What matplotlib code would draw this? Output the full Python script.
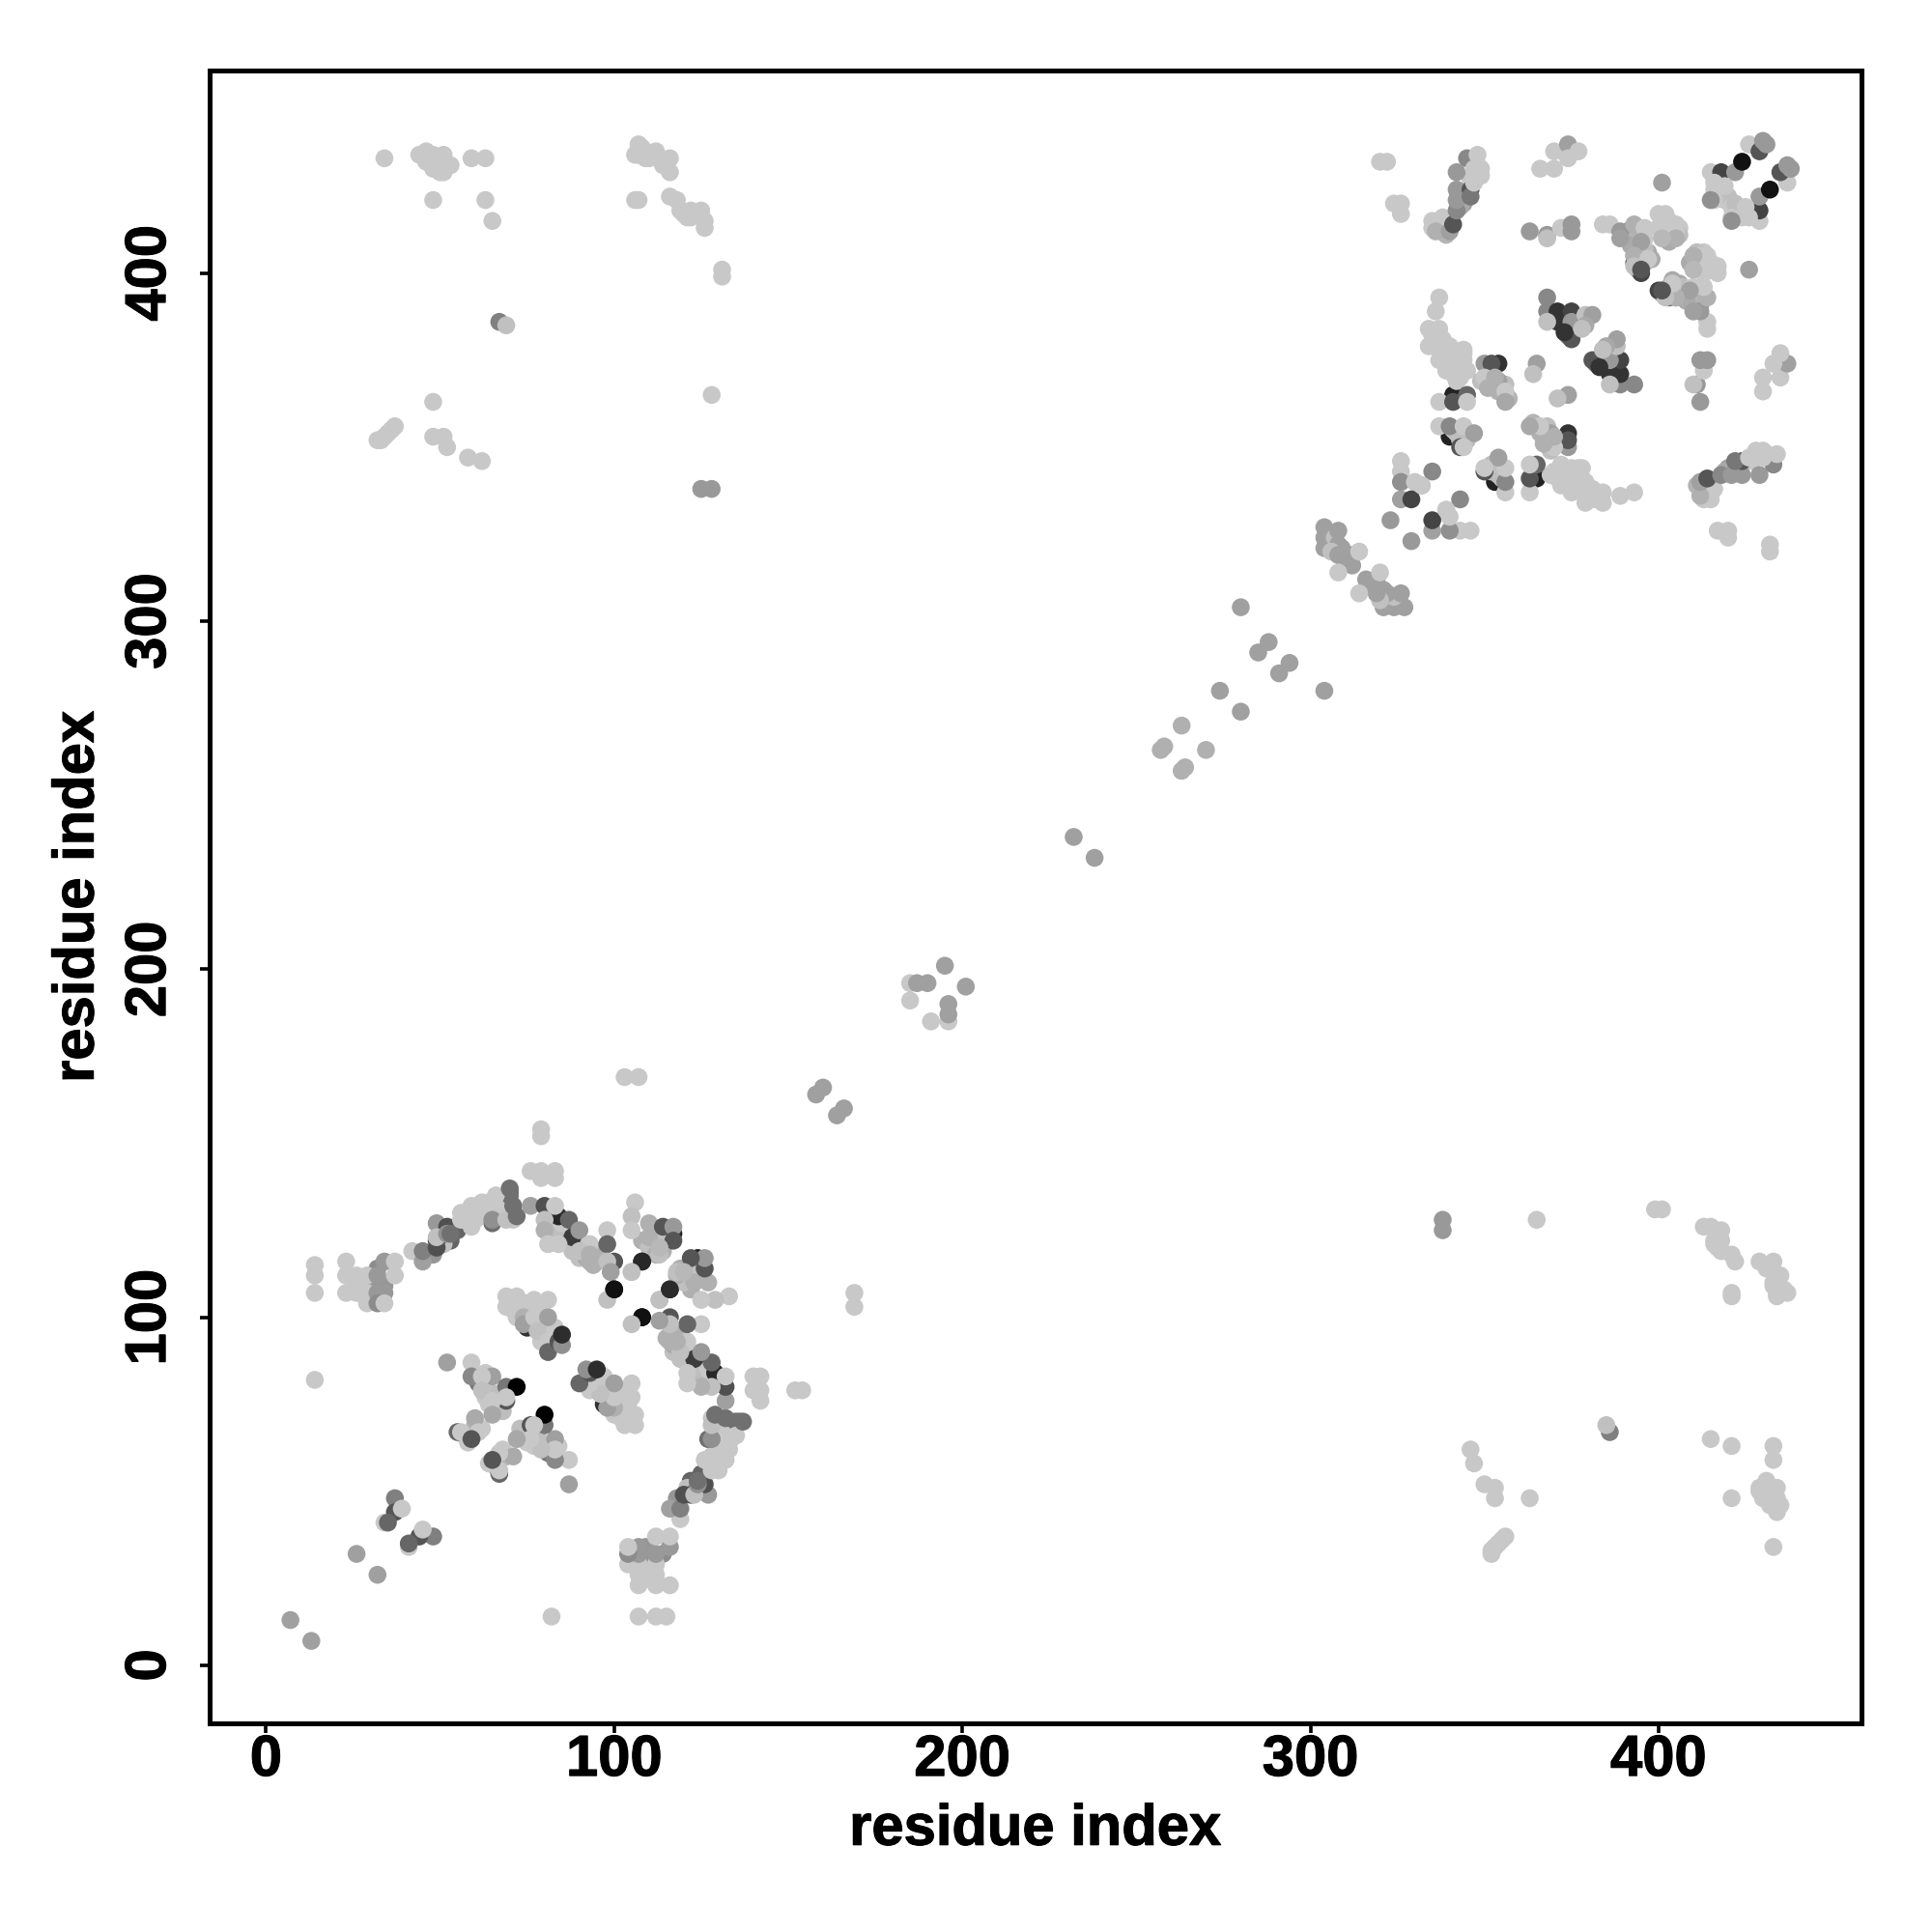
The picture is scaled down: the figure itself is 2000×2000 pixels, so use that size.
import matplotlib
matplotlib.use("Agg")
import matplotlib.pyplot as plt
import matplotlib.patheffects as pe
import numpy as np

# contacts are listed once (i < j), the map is symmetric so they get mirrored below
arc_i = [7, 26, 14, 14, 14, 14, 23, 23, 23, 26, 26, 29, 29, 29,
         32, 32, 34, 32, 34, 34, 37, 37,
         42, 45, 45, 49, 49, 49, 52, 49, 52, 53,
         56, 56, 59, 59, 62, 65, 65, 66, 69, 70, 71, 72,
         76, 80, 83, 80, 80, 81, 84, 87, 90, 93, 90, 93, 93,
         98, 98, 100, 98, 99, 105, 108, 100, 98, 116, 113, 108,
         106, 105, 105, 110, 110, 114, 117, 117, 113,
         103, 107, 79, 79, 76, 79, 83, 79, 83]
arc_j = [13, 32, 115, 112, 107, 82, 116, 112, 107, 112, 107, 112, 107, 104,
         112, 107, 107, 104, 104, 116, 116, 112,
         119, 116, 119, 120, 122, 127, 126, 123, 124, 124,
         130, 128, 126, 132, 133, 131, 128, 135, 128, 137, 132, 129,
         132, 132, 132, 128, 125, 121, 121, 128, 125, 121, 119, 118, 116,
         125, 121, 116, 116, 113, 113, 116, 108, 105, 108, 105, 100,
         133, 129, 125, 127, 123, 126, 126, 122, 120,
         169, 169, 154, 152, 142, 142, 142, 140, 140]
arc_g = [160, 160, 200, 200, 200, 200, 200, 200, 200, 200, 200, 200, 200, 200,
         153, 153, 153, 140, 200, 153, 200, 200,
         200, 160, 128, 80, 80, 153, 80, 192, 144, 112,
         200, 200, 200, 200, 200, 200, 144, 200, 192, 112, 112, 112,
         160, 80, 200, 192, 176, 200, 200, 102, 153, 200, 192, 176, 176,
         200, 102, 85, 192, 160, 192, 42, 17, 192, 40, 192, 17,
         200, 192, 200, 176, 176, 85, 153, 85, 184,
         200, 200, 200, 200, 200, 200, 200, 200, 200]

inner_i = [69, 72, 69, 77, 81, 74, 74, 77, 81, 78, 81, 81, 84, 85, 85,
           52, 59, 59, 65, 62, 69, 72, 62, 69, 69, 65, 65, 60, 55, 56, 61, 59,
           37, 37, 39, 34, 35]
inner_j = [106, 106, 103, 105, 105, 100, 98, 100, 100, 96, 93, 90, 93, 92, 95,
           87, 87, 83, 83, 83, 80, 80, 79, 76, 77, 76, 72, 71, 67, 67, 67, 65,
           48, 44, 45, 41, 41]
inner_g = [200, 200, 200, 200, 200, 176, 160, 200, 160, 192, 200, 102, 85, 144, 45,
           160, 200, 136, 160, 200, 119, 0, 192, 85, 200, 200, 168, 170, 102, 200, 200, 85,
           128, 85, 200, 200, 102]

far_i = [34, 44, 46, 48, 48, 50, 51, 53, 59, 63, 48, 63, 65,
         106, 107, 109, 111, 113, 115, 116, 116, 106, 107, 116, 118, 119, 122, 121, 125, 126, 126, 131, 131,
         67, 69, 48, 128,
         32, 34, 35, 37, 48, 51, 52, 58, 62, 125, 128]
far_j = [433, 434, 435, 434, 430, 432, 429, 431, 433, 433, 421, 421, 415,
         434, 437, 433, 434, 433, 432, 433, 429, 421, 421, 422, 421, 418, 418, 416, 418, 415, 413, 401, 399,
         386, 385, 363, 365,
         352, 353, 354, 356, 353, 353, 350, 347, 346, 338, 338]
far_g = [200, 200, 200, 200, 200, 200, 200, 200, 200, 200, 200, 200, 200,
         200, 200, 200, 200, 200, 200, 200, 200, 200, 200, 200, 200, 200, 200, 200, 200, 200, 200, 200, 200,
         128, 192, 200, 200,
         200, 200, 200, 200, 200, 200, 200, 200, 200, 153, 153]

mid_i = [160, 158, 185, 187, 190, 185, 195, 232, 257, 258, 263, 274, 280, 285, 288]
mid_j = [166, 164, 196, 196, 196, 191, 201, 238, 263, 264, 270, 280, 304, 291, 294]
mid_g = [160, 160, 200, 160, 160, 200, 160, 160, 176, 176, 176, 160, 160, 160, 160]

streak_i = [304, 304, 304, 307, 308, 308, 306, 308, 310, 312, 314, 308]
streak_j = [327, 324, 321, 324, 326, 322, 320, 319, 317, 319, 320, 314]
streak_g = [160, 160, 160, 192, 160, 160, 192, 160, 160, 160, 200, 200]

core_i = [320, 322, 326, 324, 326,
          335, 337, 336, 340, 341, 342, 342, 342, 346, 346, 347, 342, 345, 349, 348, 347,
          337, 336, 334, 337, 334, 337, 340, 344, 344, 337, 341, 344, 341, 343, 342,
          350, 354, 352, 350, 353, 351, 354, 356, 356, 365, 364,
          337, 341, 345, 345, 337, 340, 344, 347, 343, 344,
          368, 368, 371, 375, 371, 368, 375, 379, 381, 375, 373, 379, 378,
          366, 370, 370, 374, 377, 374, 363, 368, 368, 372, 375, 375,
          384, 386, 389, 389, 393, 396, 396, 395, 393, 397, 393, 395,
          401, 401, 403, 405, 405, 401,
          415, 415, 418, 422, 416, 419, 424, 426, 429, 431, 430,
          326, 326, 326, 330, 332, 326, 329, 335, 323, 332]
core_j = [432, 432, 420, 420, 417,
          415, 415, 412, 412, 414, 418, 424, 421, 424, 422, 426, 429, 433, 430, 434, 430,
          393, 389, 384, 384, 379, 378, 379, 378, 375, 375, 375, 372, 371, 370, 369,
          374, 374, 374, 370, 370, 367, 366, 366, 363, 374, 371,
          363, 363, 365, 363, 356, 356, 356, 354, 350, 350,
          393, 389, 389, 389, 386, 386, 386, 388, 388, 381, 383, 385, 384,
          430, 430, 435, 437, 435, 433, 412, 411, 410, 413, 414, 412,
          414, 414, 412, 410, 414, 413, 410, 409, 405, 404, 402, 401,
          426, 416, 415, 412, 410, 410,
          429, 421, 429, 429, 426, 425, 432, 437, 435, 437, 438,
          346, 343, 340, 340, 339, 335, 335, 343, 329, 339]
core_g = [200, 200, 200, 200, 200,
          200, 200, 176, 160, 85, 136, 153, 153, 85, 119, 200, 153, 136, 200, 200, 200,
          200, 200, 200, 200, 200, 200, 200, 200, 200, 200, 200, 200, 200, 200, 200,
          153, 51, 85, 200, 176, 176, 176, 200, 168, 160, 192,
          200, 85, 102, 200, 200, 136, 200, 160, 85, 200,
          136, 136, 51, 68, 51, 192, 153, 192, 160, 85, 51, 168, 192,
          200, 200, 200, 160, 200, 200, 153, 153, 192, 200, 153, 153,
          200, 200, 153, 160, 176, 200, 200, 160, 176, 200, 192, 85,
          160, 200, 200, 200, 176, 184,
          200, 144, 68, 153, 200, 200, 17, 200, 85, 153, 153,
          200, 200, 144, 200, 200, 160, 68, 136, 153, 200]

# dark contacts that sit partly hidden in the reference, drawn first
under_i = [83, 86, 117, 75, 341, 340]
under_j = [128, 124, 124, 97, 365, 353]
under_g = [48, 51, 34, 51, 34, 34]

# weaker contacts filling out the dense patches, drawn underneath
fill_i = [26, 29, 31, 29, 32, 33, 31, 34,
          58, 60, 61, 63, 64, 66, 67, 68, 70, 71, 65, 60, 55, 70, 70,
          50, 53, 51, 48,
          82, 84, 87, 88, 90, 91, 92, 95, 96, 94, 85, 88, 84,
          108, 110, 112, 112, 114, 115, 113,
          70, 71, 73, 75, 75, 76, 78, 79, 80, 79, 82, 76, 83, 72,
          63, 63, 64, 66, 67, 66, 68, 63, 67, 61, 57, 60, 62, 58,
          49, 51, 52, 50, 46, 108, 110, 112, 114, 107, 33, 36, 120, 122, 123,
          335, 336, 338, 339, 341, 342, 340, 342, 344, 345, 339, 338,
          351, 352, 353, 355, 356, 356, 357, 354, 349,
          402, 403, 405, 406, 404, 406, 403, 400, 400, 402,
          394, 393, 396, 394, 397, 398, 395,
          416, 417, 418, 419, 417, 420, 416,
          342, 343, 345, 341,
          305, 306, 307, 309, 311, 312, 305,
          337, 338, 335, 339, 348, 349, 346, 344, 343,
          372, 373, 376, 377, 374,
          391, 394, 392, 394, 396, 393]
fill_j = [110, 109, 106, 106, 114, 110, 108, 109,
          129, 128, 131, 130, 133, 130, 133, 130, 134, 128, 127, 128, 125, 135, 136,
          125, 122, 121, 118,
          125, 123, 121, 119, 117, 120, 117, 116, 118, 115, 127, 123, 129,
          122, 120, 122, 118, 119, 122, 118,
          104, 102, 103, 104, 100, 102, 102, 98, 96, 93, 92, 99, 97, 100,
          80, 77, 75, 78, 75, 73, 73, 84, 78, 81, 66, 69, 68, 64,
          432, 434, 431, 429, 432, 436, 433, 435, 431, 434, 352, 355, 417, 416, 417,
          382, 381, 380, 377, 378, 376, 374, 373, 377, 372, 372, 381,
          372, 369, 367, 368, 365, 368, 364, 369, 369,
          415, 413, 414, 413, 411, 411, 409, 413, 417, 417,
          403, 405, 403, 401, 406, 404, 400,
          424, 422, 424, 421, 427, 422, 421,
          354, 352, 352, 355,
          325, 323, 322, 321, 318, 316, 322,
          413, 416, 413, 411, 431, 428, 427, 420, 419,
          388, 385, 387, 384, 382,
          412, 411, 408, 405, 407, 403]
fill_g = [200, 200, 200, 200, 140, 150, 150, 150,
          200, 150, 200, 200, 200, 200, 200, 200, 200, 200, 110, 200, 100, 112, 112,
          192, 100, 192, 150,
          190, 190, 190, 192, 192, 192, 170, 176, 176, 176, 200, 60, 40,
          176, 192, 192, 176, 176, 192, 192,
          200, 200, 200, 200, 200, 200, 200, 200, 200, 200, 200, 200, 200, 200,
          200, 200, 200, 190, 190, 200, 190, 200, 190, 120, 200, 180, 200, 200,
          200, 200, 200, 200, 200, 200, 200, 200, 200, 200, 200, 200, 200, 200, 200,
          200, 200, 200, 200, 200, 200, 200, 200, 200, 200, 200, 200,
          190, 180, 190, 200, 170, 190, 180, 160, 190,
          200, 200, 200, 200, 200, 190, 170, 200, 200, 200,
          170, 176, 180, 192, 170, 170, 68,
          200, 200, 190, 200, 200, 190, 200,
          190, 190, 190, 190,
          150, 160, 150, 160, 160, 160, 160,
          200, 200, 200, 180, 200, 200, 200, 160, 170,
          60, 60, 130, 170, 120,
          150, 180, 170, 190, 190, 100]

i = np.array(under_i + fill_i + arc_i + inner_i + far_i + mid_i + streak_i + core_i)
j = np.array(under_j + fill_j + arc_j + inner_j + far_j + mid_j + streak_j + core_j)
g = np.array(under_g + fill_g + arc_g + inner_g + far_g + mid_g + streak_g + core_g)

plt.rcParams['font.family'] = ['Liberation Sans', 'DejaVu Sans']

fig = plt.figure(figsize=(20, 20), dpi=100)
ax = fig.add_axes([216.7/2000, 1-1783.7/2000, (1927-216.7)/2000, (1783.7-72.7)/2000])

x = np.concatenate([i, j])
y = np.concatenate([j, i])
cols = [str(v/255) for v in np.concatenate([g, g])]
ax.scatter(x, y, s=178, c=cols, linewidths=0, zorder=3)

ax.set_xlim(-16.3, 458.3)
ax.set_ylim(-16.6, 458.3)
ax.set_xticks([0, 100, 200, 300, 400])
ax.set_yticks([0, 100, 200, 300, 400])
for s in ax.spines.values():
    s.set_linewidth(3.6)
ax.tick_params(direction="out", length=7.2, width=2.6, labelsize=43)
ax.tick_params(axis="x", pad=1)
ax.tick_params(axis="y", pad=17)
for t in ax.get_xticklabels() + ax.get_yticklabels():
    t.set_fontweight("bold")
for t in ax.get_yticklabels():
    t.set_rotation(90)
    t.set_va("center")
ax.set_xlabel("residue index", fontsize=43, fontweight="bold", labelpad=12)
ax.set_ylabel("residue index", fontsize=43, fontweight="bold", labelpad=14)

# reference lettering is a bit heavier than Liberation bold
heavy = [pe.withStroke(linewidth=0.8, foreground="black")]
for t in ax.get_xticklabels() + ax.get_yticklabels() + [ax.xaxis.label, ax.yaxis.label]:
    t.set_path_effects(heavy)

plt.savefig("out.png", dpi=100)
